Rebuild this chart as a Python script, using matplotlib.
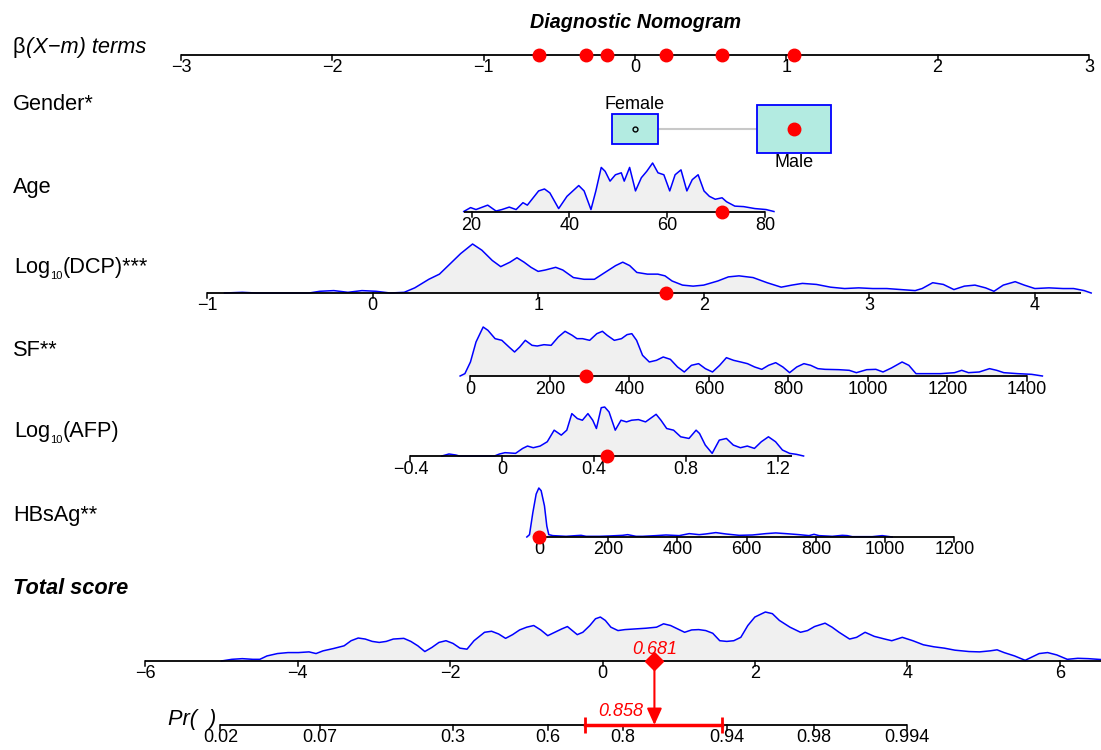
import numpy as np
import matplotlib.pyplot as plt
from matplotlib.patches import Rectangle
from matplotlib import transforms

plt.rcParams['font.family'] = ['Liberation Sans', 'DejaVu Sans']

# ---- model terms: beta*(X - m) ----
age_coef, age_mean = 0.03234, 53.4
dcp_coef, dcp_mean = 1.0944, 1.585
sf_coef, sf_mean = 0.002627, 414.0
afp_coef, afp_mean = 1.518, 0.578
hbs_coef, hbs_mean = 0.002289, 277.7
gender_coef, gender_mean = 1.05, 0.0

# observed patient
obs_gender = 1          # Male
obs_age = 71.2
obs_dcp = 1.773
obs_sf = 290.0
obs_afp = 0.456
obs_hbs = 0.0
total_score = 0.681
pr_obs = 0.858
pr_ci = [0.708, 0.936]
pr_intercept = 1.12

gender_cats = ["Female", "Male"]
gender_freq = [0.28, 0.72]

# tick values
beta_ticks = [-3, -2, -1, 0, 1, 2, 3]
age_ticks = [20, 40, 60, 80]
dcp_ticks = [-1, 0, 1, 2, 3, 4]
sf_ticks = [0, 200, 400, 600, 800, 1000, 1200, 1400]
afp_ticks = [-0.4, 0, 0.4, 0.8, 1.2]
hbs_ticks = [0, 200, 400, 600, 800, 1000, 1200]
total_ticks = [-6, -4, -2, 0, 2, 4, 6]
pr_ticks = [0.02, 0.07, 0.3, 0.6, 0.8, 0.94, 0.98, 0.994]
pr_tick_labels = ["0.02", "0.07", "0.3", "0.6", "0.8", "0.94", "0.98", "0.994"]

# axis ranges
age_range = [18.4, 80]
dcp_range = [-1, 4.28]
sf_range = [0, 1400]
afp_range = [-0.4, 1.26]
hbs_range = [-15, 1200]

# densities (value, relative height)
age_x = [18.4, 19.8, 20.9, 23.3, 25.0, 26.2, 27.7, 29.1, 30.5, 31.4, 33.7, 34.9, 36.0, 37.8,
         39.5, 41.9, 43.0, 44.4, 45.4, 46.5, 47.3, 48.3, 49.4, 50.6, 51.2, 52.3, 53.5, 54.7,
         55.8, 57.0, 58.1, 59.3, 60.5, 61.6, 62.8, 64.0, 65.1, 66.3, 67.5, 68.6, 69.8, 71.2,
         72.1, 73.8, 75.6, 77.9, 80.2, 81.8]
age_h = [0.01, 0.09, 0.05, 0.14, 0.02, 0.05, 0.10, 0.05, 0.19, 0.14, 0.43, 0.47, 0.39, 0.07,
         0.32, 0.54, 0.43, 0.05, 0.43, 0.91, 0.83, 0.63, 0.76, 0.80, 0.63, 0.91, 0.43, 0.70,
         0.83, 1.00, 0.80, 0.76, 0.43, 0.76, 0.86, 0.43, 0.66, 0.76, 0.43, 0.32, 0.26, 0.29,
         0.21, 0.12, 0.11, 0.07, 0.05, 0.01]

dcp_x = [-0.894, -0.787, -0.702, -0.383, -0.319, -0.234, -0.149, -0.064, 0.021, 0.106, 0.191,
         0.255, 0.340, 0.404, 0.468, 0.532, 0.604, 0.660, 0.723, 0.774, 0.830, 0.872, 0.915,
         0.957, 1.0, 1.043, 1.106, 1.149, 1.213, 1.277, 1.340, 1.404, 1.468, 1.511, 1.553,
         1.596, 1.660, 1.723, 1.766, 1.809, 1.872, 1.936, 2.0, 2.085, 2.149, 2.213, 2.298,
         2.383, 2.468, 2.532, 2.596, 2.681, 2.766, 2.851, 2.936, 3.021, 3.106, 3.191, 3.277,
         3.319, 3.383, 3.447, 3.511, 3.574, 3.638, 3.702, 3.753, 3.809, 3.881, 3.936, 4.0,
         4.085, 4.170, 4.234, 4.298, 4.340]
dcp_h = [0, 0.014, 0, 0, 0.035, 0.049, 0.014, 0.049, 0.035, 0, 0.014, 0.105, 0.280, 0.385,
         0.594, 0.804, 1.0, 0.874, 0.664, 0.538, 0.629, 0.720, 0.629, 0.524, 0.441, 0.469,
         0.524, 0.469, 0.315, 0.280, 0.280, 0.420, 0.559, 0.629, 0.559, 0.420, 0.385, 0.385,
         0.350, 0.245, 0.161, 0.140, 0.161, 0.245, 0.329, 0.350, 0.315, 0.210, 0.119, 0.161,
         0.196, 0.175, 0.119, 0.091, 0.105, 0.091, 0.091, 0.070, 0.049, 0.091, 0.210, 0.175,
         0.070, 0.140, 0.161, 0.105, 0.035, 0.161, 0.231, 0.161, 0.091, 0.105, 0.091, 0.091,
         0.049, 0.0]

sf_x = [-26, -14, 0, 14, 32, 44, 62, 79, 97, 111, 124, 138, 155, 168, 185, 203, 221, 238,
        256, 268, 282, 300, 318, 332, 344, 362, 380, 394, 406, 418, 433, 450, 468, 485, 503,
        521, 538, 556, 574, 591, 609, 627, 644, 662, 680, 697, 715, 733, 750, 768, 786, 803,
        821, 839, 856, 874, 892, 927, 953, 971, 997, 1020, 1038, 1059, 1086, 1103, 1121,
        1148, 1183, 1218, 1236, 1253, 1280, 1306, 1324, 1342, 1377, 1412, 1439]
sf_h = [0, 0.048, 0.286, 0.694, 1.0, 0.932, 0.762, 0.728, 0.592, 0.490, 0.592, 0.728, 0.626,
        0.612, 0.639, 0.626, 0.796, 0.912, 0.830, 0.762, 0.762, 0.728, 0.864, 0.912, 0.830,
        0.728, 0.762, 0.844, 0.864, 0.728, 0.422, 0.286, 0.320, 0.388, 0.340, 0.184, 0.082,
        0.218, 0.252, 0.150, 0.082, 0.218, 0.374, 0.320, 0.286, 0.252, 0.184, 0.136, 0.218,
        0.272, 0.184, 0.068, 0.184, 0.252, 0.218, 0.150, 0.136, 0.129, 0.116, 0.068, 0.129,
        0.136, 0.082, 0.163, 0.286, 0.218, 0.048, 0.048, 0.048, 0.068, 0.116, 0.068, 0.082,
        0.150, 0.116, 0.068, 0.048, 0.034, 0.0]

afp_x = [-0.263, -0.232, -0.202, -0.187, -0.034, -0.012, 0.012, 0.058, 0.089, 0.110, 0.135,
         0.165, 0.196, 0.226, 0.257, 0.281, 0.303, 0.327, 0.349, 0.373, 0.394, 0.410, 0.431,
         0.446, 0.465, 0.492, 0.517, 0.541, 0.563, 0.593, 0.624, 0.654, 0.670, 0.691, 0.716,
         0.746, 0.777, 0.813, 0.844, 0.859, 0.884, 0.914, 0.945, 0.976, 1.006, 1.037, 1.067,
         1.098, 1.128, 1.159, 1.190, 1.220, 1.251, 1.281, 1.312]
afp_h = [0, 0.041, 0.020, 0, 0, 0.041, 0.068, 0.054, 0.155, 0.203, 0.169, 0.203, 0.291, 0.527,
         0.426, 0.527, 0.865, 0.764, 0.730, 0.865, 0.730, 0.561, 0.986, 1.0, 0.899, 0.527,
         0.730, 0.696, 0.730, 0.743, 0.696, 0.797, 0.851, 0.730, 0.561, 0.527, 0.392, 0.358,
         0.527, 0.459, 0.223, 0.054, 0.324, 0.358, 0.223, 0.169, 0.203, 0.155, 0.291, 0.392,
         0.291, 0.122, 0.054, 0.034, 0]

hbs_x = [-34.6, -26.9, -17.3, -7.7, 0, 6.7, 16.3, 23.1, 28.8, 40.4, 78.8, 107.6, 122.0, 136.4,
         174.9, 203.7, 242.1, 256.5, 280.6, 299.8, 338.2, 367.0, 405.5, 434.3, 463.1, 482.3,
         511.1, 540.0, 578.4, 616.8, 655.3, 684.1, 712.9, 751.3, 780.2, 794.6, 809.0, 847.4,
         876.2, 890.6, 905.1, 962.7, 991.5, 1005.9, 1020.4]
hbs_h = [0, 0.048, 0.497, 0.876, 1.0, 0.945, 0.634, 0.221, 0.048, 0.028, 0.014, 0.028, 0.034,
         0.014, 0.014, 0.021, 0.034, 0.048, 0.014, 0.014, 0.028, 0.041, 0.028, 0.069, 0.048,
         0.062, 0.090, 0.062, 0.034, 0.041, 0.069, 0.083, 0.069, 0.048, 0.028, 0.055, 0.028,
         0.014, 0.034, 0.028, 0.007, 0.007, 0.028, 0.014, 0]

total_x = [-5.000, -4.862, -4.724, -4.586, -4.494, -4.401, -4.263, -4.125, -3.987, -3.849,
           -3.757, -3.665, -3.527, -3.389, -3.297, -3.204, -3.112, -3.020, -2.928, -2.836,
           -2.744, -2.606, -2.514, -2.422, -2.330, -2.238, -2.145, -2.053, -1.961, -1.869,
           -1.777, -1.685, -1.547, -1.455, -1.363, -1.271, -1.179, -1.087, -0.994, -0.902,
           -0.810, -0.718, -0.626, -0.534, -0.460, -0.396, -0.331, -0.258, -0.166, -0.092,
           -0.028, 0.037, 0.110, 0.203, 0.295, 0.433, 0.571, 0.709, 0.801, 0.893, 0.985,
           1.077, 1.169, 1.262, 1.354, 1.446, 1.538, 1.630, 1.722, 1.814, 1.906, 1.998, 2.136,
           2.228, 2.320, 2.459, 2.597, 2.689, 2.781, 2.919, 3.011, 3.103, 3.241, 3.333, 3.444,
           3.564, 3.702, 3.794, 3.932, 4.070, 4.208, 4.346, 4.484, 4.622, 4.807, 4.945, 5.083,
           5.175, 5.267, 5.405, 5.543, 5.635, 5.727, 5.838, 5.958, 6.096, 6.234, 6.372, 6.538]
total_h = [0, 0.034, 0.048, 0.034, 0.034, 0.103, 0.152, 0.172, 0.172, 0.186, 0.152, 0.207,
           0.255, 0.310, 0.414, 0.469, 0.448, 0.400, 0.379, 0.400, 0.448, 0.462, 0.400, 0.310,
           0.193, 0.276, 0.379, 0.414, 0.359, 0.262, 0.241, 0.414, 0.586, 0.607, 0.552, 0.462,
           0.538, 0.634, 0.690, 0.724, 0.634, 0.517, 0.586, 0.655, 0.703, 0.621, 0.538, 0.586,
           0.724, 0.862, 0.897, 0.828, 0.690, 0.621, 0.641, 0.655, 0.669, 0.690, 0.759, 0.724,
           0.655, 0.586, 0.634, 0.641, 0.621, 0.566, 0.414, 0.400, 0.414, 0.483, 0.724, 0.897,
           1.0, 0.966, 0.828, 0.690, 0.586, 0.621, 0.703, 0.772, 0.690, 0.586, 0.448, 0.483,
           0.586, 0.503, 0.448, 0.414, 0.483, 0.414, 0.331, 0.290, 0.262, 0.221, 0.193, 0.186,
           0.207, 0.228, 0.172, 0.103, 0.014, 0.083, 0.152, 0.172, 0.124, 0.034, 0.055, 0.048,
           0.03]

# ---- layout (figure pixel rows, y grows downward) ----
W, H = 1101, 750
Y_BETA, Y_GENDER, Y_AGE, Y_DCP, Y_SF, Y_AFP, Y_HBS, Y_TOT, Y_PR = 55, 129, 212, 293, 376, 456, 537, 661, 725
DENS_H = 49
LAB_FS, TICK_FS = 15.7, 13
RED = '#ff0000'


def fmt(v):
    s = ('%g' % v)
    return s.replace('-', '\u2212')


fig = plt.figure(figsize=(W / 100, H / 100), dpi=100)
ax = fig.add_axes([0, 0, 1, 1])
ax.set_xlim(-4.197, 3.08)
ax.set_ylim(H, 0)
ax.axis('off')
ax2 = fig.add_axes([0, 0, 1, 1])
ax2.set_xlim(-7.902, 6.538)
ax2.set_ylim(H, 0)
ax2.axis('off')
ax2.patch.set_alpha(0)

lab_tr = transforms.blended_transform_factory(ax.transAxes, ax.transData)


def log_label(a, x, y, rest):
    # "Log" + small subscript "10" + rest, chained on the first text
    base = a.text(x, y, 'Log', transform=lab_tr, ha='left', va='center', fontsize=LAB_FS)
    sub = a.annotate('10', xy=(1, 0.1), xycoords=base, ha='left', va='center', fontsize=8)
    a.annotate(rest, xy=(1, 0.5), xycoords=(sub, base), ha='left', va='center', fontsize=LAB_FS)


def draw_axis(a, y, lo, hi, ticks, labels, tick_len=5):
    a.plot([lo, hi], [y, y], color='black', lw=1.3, zorder=3, solid_capstyle='butt')
    for t, l in zip(ticks, labels):
        a.plot([t, t], [y, y + tick_len], color='black', lw=1.1, zorder=3)
        a.text(t, y + 13, l, ha='center', va='center', fontsize=TICK_FS, zorder=4)


def draw_row(y, coef, mean, ticks, rng, dx, dh, obs):
    f = lambda v: coef * (np.asarray(v, dtype=float) - mean)
    xs = f(dx)
    top = y - DENS_H * np.asarray(dh)
    ax.fill_between(xs, y, top, color='#f0f0f0', lw=0, zorder=1)
    ax.plot(xs, top, color='blue', lw=1.1, zorder=2)
    draw_axis(ax, y, f(rng[0]), f(rng[1]), f(ticks), [fmt(t) for t in ticks])
    ax.plot(f(obs), y, 'o', color=RED, ms=9, zorder=5)
    return float(f(obs))


# title
ax.text(0, 22, 'Diagnostic Nomogram', ha='center', va='center', fontsize=14.2,
        fontweight='bold', fontstyle='italic')

# row labels
beta_t = ax.text(13 / W, 47, 'β', transform=lab_tr, ha='left', va='center', fontsize=LAB_FS)
ax.annotate('(X\u2212m) terms', xy=(1, 0.5), xycoords=beta_t, ha='left', va='center',
            fontsize=LAB_FS, fontstyle='italic')
for txt, y in [('Gender*', 105), ('Age', 187), ('SF**', 350), ('HBsAg**', 515)]:
    ax.text(13 / W, y, txt, transform=lab_tr, ha='left', va='center', fontsize=LAB_FS)
log_label(ax, 14 / W, 268, '(DCP)***')
log_label(ax, 14 / W, 432, '(AFP)')
ax.text(13 / W, 588, 'Total score', transform=lab_tr, ha='left', va='center',
        fontsize=LAB_FS, fontweight='bold', fontstyle='italic')

# variable rows
betas = []
betas.append(draw_row(Y_AGE, age_coef, age_mean, age_ticks, age_range, age_x, age_h, obs_age))
betas.append(draw_row(Y_DCP, dcp_coef, dcp_mean, dcp_ticks, dcp_range, dcp_x, dcp_h, obs_dcp))
betas.append(draw_row(Y_SF, sf_coef, sf_mean, sf_ticks, sf_range, sf_x, sf_h, obs_sf))
betas.append(draw_row(Y_AFP, afp_coef, afp_mean, afp_ticks, afp_range, afp_x, afp_h, obs_afp))
betas.append(draw_row(Y_HBS, hbs_coef, hbs_mean, hbs_ticks, hbs_range, hbs_x, hbs_h, obs_hbs))

# gender boxes
g_pos = [gender_coef * (k - gender_mean) for k in range(len(gender_cats))]
ax.plot(g_pos, [Y_GENDER] * 2, color='#c8c8c8', lw=1.5, zorder=1)
for k, (cat, fr) in enumerate(zip(gender_cats, gender_freq)):
    bw = 0.576 * np.sqrt(fr)
    bh = 57.7 * np.sqrt(fr)
    ax.add_patch(Rectangle((g_pos[k] - bw / 2, Y_GENDER - bh / 2), bw, bh,
                           facecolor='#b3ebe1', edgecolor='blue', lw=1.3, zorder=2))
    if k == 0:
        ax.text(g_pos[k], Y_GENDER - bh / 2 - 1, cat, ha='center', va='bottom', fontsize=13)
    else:
        ax.text(g_pos[k], Y_GENDER + bh / 2 + 1, cat, ha='center', va='top', fontsize=13)
    if k == obs_gender:
        ax.plot(g_pos[k], Y_GENDER, 'o', color=RED, ms=9, zorder=5)
    else:
        ax.plot(g_pos[k], Y_GENDER, 'o', mfc='none', mec='black', ms=3.5, mew=1, zorder=5)
betas.append(g_pos[obs_gender])

# beta terms axis
draw_axis(ax, Y_BETA, -3, 3, beta_ticks, [fmt(t) for t in beta_ticks])
ax.plot(betas, [Y_BETA] * len(betas), 'o', color=RED, ms=9, zorder=5)

# total score
ax2.fill_between(total_x, Y_TOT, Y_TOT - DENS_H * np.asarray(total_h), color='#f0f0f0', lw=0, zorder=1)
ax2.plot(total_x, Y_TOT - DENS_H * np.asarray(total_h), color='blue', lw=1.1, zorder=2)
draw_axis(ax2, Y_TOT, -6, 6.538, total_ticks, [fmt(t) for t in total_ticks])
ax2.plot(total_score, Y_TOT, 'D', color=RED, ms=9, zorder=6)
ax2.text(total_score, Y_TOT - 12, '%.3f' % total_score, color=RED, ha='center', va='center',
         fontsize=13, fontstyle='italic', zorder=6)

# probability axis
to_score = lambda p: np.log(np.asarray(p) / (1 - np.asarray(p))) - pr_intercept
draw_axis(ax2, Y_PR, to_score(pr_ticks[0]), to_score(pr_ticks[-1]), to_score(pr_ticks), pr_tick_labels)
ax2.text(168 / W, 720, 'Pr(  )', transform=transforms.blended_transform_factory(ax2.transAxes, ax2.transData),
         ha='left', va='center', fontsize=LAB_FS, fontstyle='italic')
ci = to_score(pr_ci)
ax2.plot(ci, [Y_PR, Y_PR], color=RED, lw=2.5, zorder=5)
ax2.plot(ci, [Y_PR, Y_PR], '|', color=RED, ms=12, mew=2, zorder=5)
ax2.annotate('', xy=(total_score, Y_PR), xytext=(total_score, Y_TOT),
             arrowprops=dict(arrowstyle='-|>,head_length=1.0,head_width=0.45', color=RED,
                             lw=1.5, shrinkA=0, shrinkB=0), zorder=6)
ax2.annotate('%.3f' % pr_obs, xy=(total_score, Y_PR - 14), xytext=(-8, 0), textcoords='offset points',
             color=RED, ha='right', va='center', fontsize=13, fontstyle='italic')

fig.savefig('out.png', dpi=100)
